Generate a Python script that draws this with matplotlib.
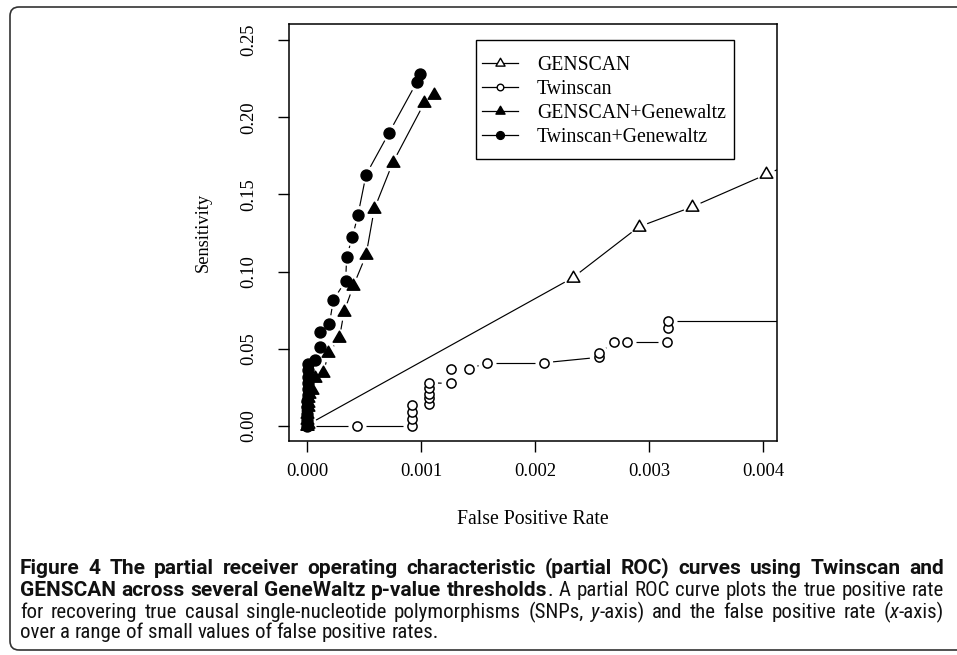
import numpy as np
import matplotlib
matplotlib.use("Agg")
import matplotlib.pyplot as plt
from matplotlib.collections import LineCollection
from matplotlib.lines import Line2D
from matplotlib.patches import FancyBboxPatch, Rectangle
from matplotlib.path import Path
from matplotlib.transforms import IdentityTransform
from matplotlib import font_manager

# ---- data ----
genscan_x = [0.0, 0.00001, 0.00233, 0.00291, 0.00338, 0.00403, 0.00460]
genscan_y = [0.0, 0.001, 0.096, 0.129, 0.142, 0.163, 0.181]

twinscan_x = [0.0, 0.00044, 0.00092, 0.00092, 0.00092, 0.00092,
              0.00107, 0.00107, 0.00107, 0.00107, 0.00107,
              0.00126, 0.00126, 0.00142, 0.00158, 0.00208,
              0.00256, 0.00256, 0.00269, 0.00281, 0.00316,
              0.00317, 0.00317, 0.00470]
twinscan_y = [0.0, 0.0, 0.0, 0.0045, 0.009, 0.0135,
              0.0145, 0.018, 0.021, 0.0245, 0.028,
              0.0276, 0.0369, 0.0369, 0.041, 0.041,
              0.0445, 0.047, 0.0542, 0.0542, 0.0542,
              0.0633, 0.068, 0.068]

gen_gw_x = [0.0, 0.0, 0.0, 0.000005, 0.00001, 0.00001, 0.00002, 0.00004,
            0.00007, 0.000143, 0.000187, 0.000284, 0.000325, 0.000406,
            0.000518, 0.00059, 0.000752, 0.00103, 0.00111]
gen_gw_y = [0.0, 0.004, 0.008, 0.012, 0.015, 0.018, 0.021, 0.0233,
            0.0313, 0.0341, 0.047, 0.0568, 0.074, 0.0907,
            0.1107, 0.1405, 0.1705, 0.2094, 0.2144]

twin_gw_x = [0.0, 0.0, 0.0, 0.0, 0.0, 0.000005, 0.000005, 0.000005,
             0.00001, 0.00001, 0.00001, 0.00007, 0.000114, 0.000114,
             0.000196, 0.000231, 0.000339, 0.000348, 0.000398, 0.000447,
             0.000518, 0.00072, 0.000962, 0.00099]
twin_gw_y = [0.0, 0.004, 0.008, 0.012, 0.016, 0.020, 0.024, 0.028,
             0.032, 0.036, 0.040, 0.0427, 0.0514, 0.0611,
             0.066, 0.0816, 0.0941, 0.1097, 0.1224, 0.1367,
             0.1628, 0.190, 0.2226, 0.228]

series_names = ["GENSCAN", "Twinscan", "GENSCAN+Genewaltz", "Twinscan+Genewaltz"]
x_ticks = [0.000, 0.001, 0.002, 0.003, 0.004]
y_ticks = [0.00, 0.05, 0.10, 0.15, 0.20, 0.25]

caption_lines = [
    [("Figure 4 The partial receiver operating characteristic (partial ROC) curves using Twinscan and", "bold", "normal")],
    [("GENSCAN across several GeneWaltz p-value thresholds", "bold", "normal"),
     (". A partial ROC curve plots the true positive rate", "normal", "normal")],
    [("for recovering true causal single-nucleotide polymorphisms (SNPs, ", "normal", "normal"),
     ("y", "normal", "italic"),
     ("-axis) and the false positive rate (", "normal", "normal"),
     ("x", "normal", "italic"),
     ("-axis)", "normal", "normal")],
    [("over a range of small values of false positive rates.", "normal", "normal")],
]

SERIF = "Liberation Serif"
names = {f.name for f in font_manager.fontManager.ttflist}
CAP_REG = next(f for f in ["Roboto Condensed", "Liberation Sans Narrow",
                           "Roboto", "DejaVu Sans"] if f in names)
CAP_BOLD = next(f for f in ["Roboto", "DejaVu Sans"] if f in names)

W, H = 957, 655
fig = plt.figure(figsize=(W / 100, H / 100), dpi=100)
fig.patch.set_facecolor("white")

# outer frame, right side runs off the picture
frame = FancyBboxPatch((10, 5), 990, 643, boxstyle="round,pad=0,rounding_size=9",
                       transform=IdentityTransform(), fill=False,
                       edgecolor="#333333", linewidth=1.2)
fig.patches.append(frame)

AX_L, AX_R, AX_T, AX_B = 289, 777, 24, 441
ax = fig.add_axes([AX_L / W, 1 - AX_B / H, (AX_R - AX_L) / W, (AX_B - AX_T) / H])
ax.set_xlim(-0.000158, 0.004123)
ax.set_ylim(-0.0097, 0.2604)


def px_to_axes(x, y):
    return (x - AX_L) / (AX_R - AX_L), (AX_B - y) / (AX_B - AX_T)


tri = Path([(-1, -0.577), (1, -0.577), (0, 1.155), (-1, -0.577)], closed=True)


def gap_line(ax, x, y, gap=9):
    # R type="b": line segments stop short of each point
    pts = ax.transData.transform(np.column_stack([x, y]))
    inv = ax.transData.inverted()
    segs = []
    for p, q in zip(pts[:-1], pts[1:]):
        d = q - p
        L = np.hypot(*d)
        if L <= 2 * gap:
            continue
        u = d / L
        segs.append(inv.transform(np.array([p + u * gap, q - u * gap])))
    ax.add_collection(LineCollection(segs, colors="black", linewidths=0.85))


styles = [
    (genscan_x, genscan_y, dict(marker=tri, markersize=10.5, markerfacecolor="white")),
    (twinscan_x, twinscan_y, dict(marker="o", markersize=6.6, markerfacecolor="white")),
    (gen_gw_x, gen_gw_y, dict(marker=tri, markersize=10.5, markerfacecolor="black")),
    (twin_gw_x, twin_gw_y, dict(marker="o", markersize=7.8, markerfacecolor="black")),
]

for (xs, ys, st) in styles:
    gap_line(ax, xs, ys)
    ax.plot(xs, ys, linestyle="none", markeredgecolor="black",
            markeredgewidth=1.1, **st)

# legend entries without frame, box drawn separately
handles = [Line2D([], [], color="black", linewidth=0.9, markeredgecolor="black",
                  markeredgewidth=1.0,
                  **{**st, "markersize": st["markersize"] * 0.72})
           for (_, _, st) in styles]
leg = ax.legend(handles, series_names, loc="upper left",
                bbox_to_anchor=px_to_axes(482, 56), borderaxespad=0,
                frameon=False, prop={"family": SERIF, "size": 14.2},
                handlelength=1.83, handletextpad=0.95, labelspacing=0.25,
                borderpad=0)
bx0, by0 = px_to_axes(476, 159)
bx1, by1 = px_to_axes(734, 40)
ax.add_patch(Rectangle((bx0, by0), bx1 - bx0, by1 - by0, transform=ax.transAxes,
                       fill=False, edgecolor="black", linewidth=1.0, zorder=5))

ax.set_xticks(x_ticks)
ax.set_xticklabels([f"{v:.3f}" for v in x_ticks], family=SERIF, fontsize=13.3)
ax.set_yticks(y_ticks)
ax.set_yticklabels([f"{v:.2f}" for v in y_ticks], family=SERIF, fontsize=13.3,
                   rotation=90, va="center")
ax.tick_params(direction="out", length=8, width=1.0, colors="black")
ax.tick_params(axis="x", pad=7.5)
ax.tick_params(axis="y", pad=15)
for s in ax.spines.values():
    s.set_linewidth(1.1)

fig.text(533 / W, 1 - 519 / H, "False Positive Rate", family=SERIF,
         fontsize=14.2, ha="center", va="center")
fig.text(203 / W, 1 - 232 / H, "Sensitivity", family=SERIF, fontsize=13.2,
         rotation=90, ha="center", va="center")

# ---- caption, justified like the journal layout ----
renderer = fig.canvas.get_renderer()


def tokenize(pieces):
    toks, space = [], False
    for txt, wt, sty in pieces:
        for i, part in enumerate(txt.split(" ")):
            if i > 0:
                space = True
            if part == "":
                continue
            toks.append((part, wt, sty, space and len(toks) > 0))
            space = False
    return toks


def tw(txt, wt, sty, size):
    fam = CAP_BOLD if wt == "bold" else CAP_REG
    t = fig.text(0, 0, txt, family=fam, weight=wt, style=sty, fontsize=size)
    w = t.get_window_extent(renderer).width
    t.remove()
    return w


lines_tok = [tokenize(p) for p in caption_lines]
# size chosen so the last (unjustified) line has the reference width
sp10 = tw("a a", "normal", "normal", 10) - tw("aa", "normal", "normal", 10)
last = lines_tok[-1]
w10 = sum(tw(t, w, s, 10) for t, w, s, _ in last) + sp10 * sum(b for *_, b in last)
cap_size = 10 * (437 - 20) / w10
space_w = sp10 * cap_size / 10

LEFT, RIGHT = 20, 944
line_y = [568, 590, 612, 633]
for k, (toks, yy) in enumerate(zip(lines_tok, line_y)):
    widths = [tw(t, w, s, cap_size) for t, w, s, _ in toks]
    n_gaps = sum(b for *_, b in toks)
    if k < len(lines_tok) - 1 and n_gaps:
        gap = (RIGHT - LEFT - sum(widths)) / n_gaps
    else:
        gap = space_w
    x0 = LEFT
    for (txt, wt, sty, sp), wd in zip(toks, widths):
        if sp:
            x0 += gap
        fam = CAP_BOLD if wt == "bold" else CAP_REG
        fig.text(x0 / W, 1 - yy / H, txt, family=fam, weight=wt, style=sty,
                 fontsize=cap_size, va="center", ha="left", color="#111111")
        x0 += wd

fig.savefig("out.png", dpi=100)
